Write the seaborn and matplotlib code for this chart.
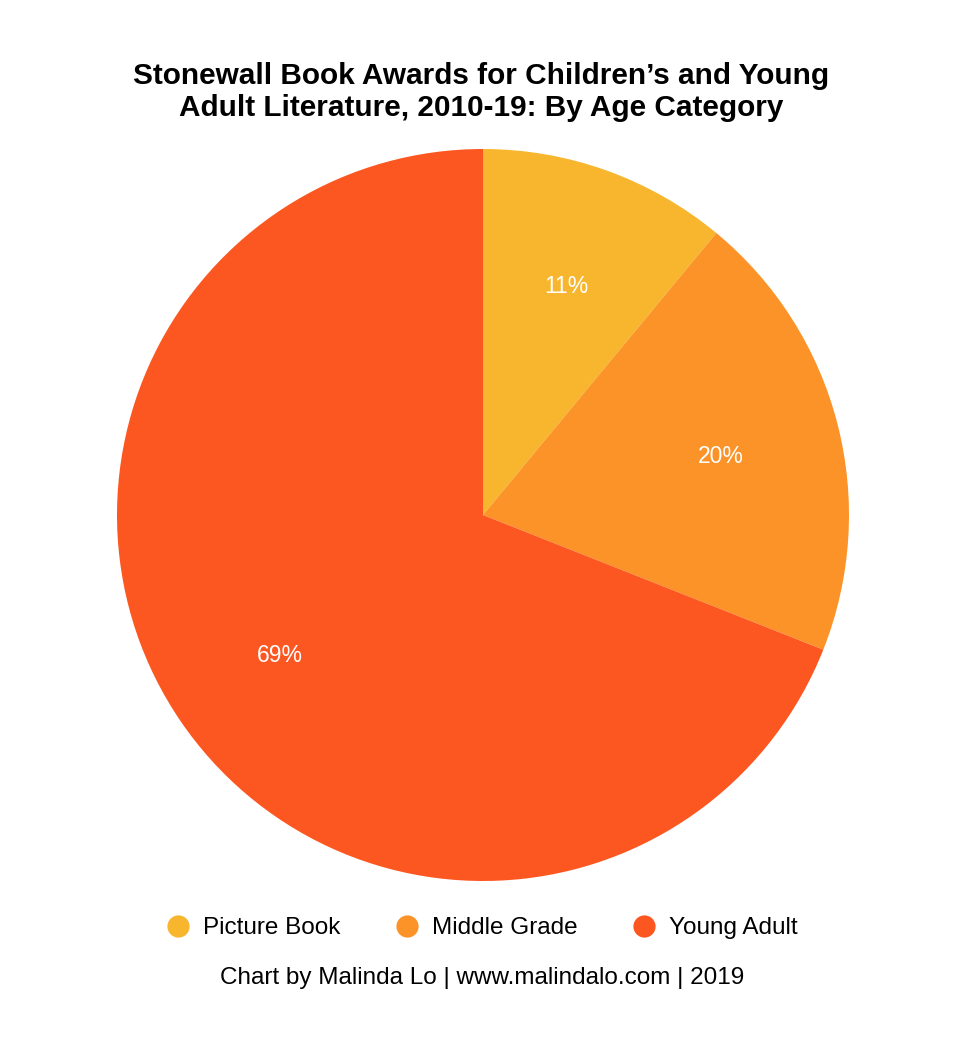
import matplotlib
matplotlib.use('Agg')
import matplotlib.pyplot as plt
from matplotlib.lines import Line2D
import seaborn as sns

# Stonewall Book Awards 2010-19, share by age category
categories = ['Picture Book', 'Middle Grade', 'Young Adult']
shares = [11, 20, 69]
colors = ['#F7B62D', '#FC9328', '#FD5721']

sns.set_theme(style='white')
plt.rcParams['font.family'] = ['Liberation Sans', 'DejaVu Sans']
plt.rcParams['text.color'] = 'black'
palette = sns.color_palette(colors)

fig = plt.figure(figsize=(9.54, 10.48), dpi=100)
ax = fig.add_axes([117 / 954, 1 - 881 / 1048, 732 / 954, 732 / 1048])

wedges, texts, autotexts = ax.pie(
    shares, colors=palette, startangle=90, counterclock=False,
    autopct='%d%%', pctdistance=0.67, radius=1,
    wedgeprops=dict(linewidth=0),
    textprops=dict(color='white', fontsize=16.5))
for t in autotexts:
    t.set_va('center_baseline')
ax.set_xlim(-1, 1)
ax.set_ylim(-1, 1)
ax.set_aspect('equal')
ax.axis('off')

fig.text(481 / 954, 1 - 92 / 1048,
         'Stonewall Book Awards for Children\u2019s and Young\nAdult Literature, 2010-19: By Age Category',
         ha='center', va='center', fontsize=21.4, fontweight='bold',
         linespacing=1.15, color='black')

handles = [Line2D([0], [0], marker='o', linestyle='', markersize=16,
                  markerfacecolor=c, markeredgewidth=0) for c in palette]
fig.legend(handles, categories, loc='center', bbox_to_anchor=(483 / 954, 1 - 928 / 1048),
           ncol=3, frameon=False, fontsize=17.5, handlelength=0.8,
           handletextpad=0.62, columnspacing=2.35, labelcolor='black')

fig.text(482 / 954, 1 - 978 / 1048, 'Chart by Malinda Lo | www.malindalo.com | 2019',
         ha='center', va='center', fontsize=17.5, color='black')

fig.savefig('out.png', dpi=100, facecolor='white')
